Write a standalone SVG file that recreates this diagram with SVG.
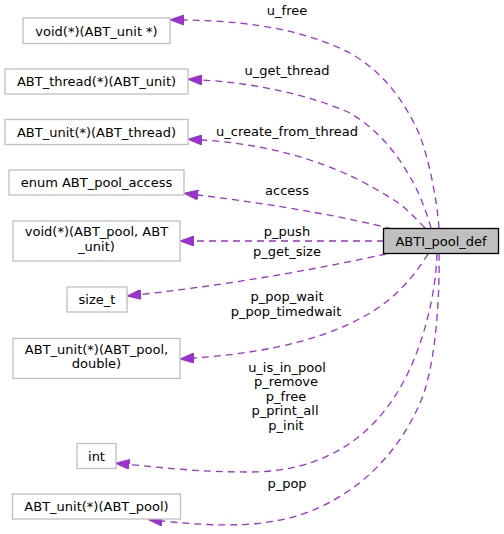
<svg xmlns="http://www.w3.org/2000/svg" width="504" height="534" viewBox="0 0 504 534">
<style>
text{font-family:"DejaVu Sans","Liberation Sans",sans-serif;font-size:13px;fill:#000}
.n rect{fill:#fff;stroke:#bfbfbf;stroke-width:1.3}
.m rect{fill:#bfbfbf;stroke:#000;stroke-width:1.3}
.c path{fill:none;stroke:#9a32cd;stroke-width:1.3;stroke-dasharray:7,5;marker-end:url(#ah)}
.c text{text-anchor:middle}
.t{text-anchor:middle}
</style>
<defs>
<marker id="ah" markerUnits="userSpaceOnUse" markerWidth="14" markerHeight="10" viewBox="0 0 14 10" refX="0" refY="5" orient="auto">
<path d="M0,0 L14,5 L0,10 Z" fill="#9a32cd" stroke="#9a32cd" stroke-width="1"/>
</marker>
</defs>
<rect width="504" height="534" fill="#fff"/>
<g class="c" id="connectors">
<path d="M439,228 C437,200 428,150 415,125 C400,95 380,70 350,53 C310,33 260,21 184,20"/>
<path d="M431,228 C426,210 418,190 410,177 C395,150 375,128 350,113 C310,95 255,83 202,80"/>
<path d="M425,228 C415,218 405,207 397,202 C375,188 350,173 310,160 C280,150 240,142 202,140"/>
<path d="M392,229 C350,218 280,205 198,195"/>
<path d="M384,241 L194,241"/>
<path d="M386,254 C330,266 250,282 141,294.5"/>
<path d="M428,254 C415,275 395,300 363,317 C330,335 280,352 194,358"/>
<path d="M437,254 C436,290 425,345 400,388 C370,440 320,472 250,472 C200,472 165,468 129.5,464.5"/>
<path d="M439,254 C440,300 435,370 420,403 C400,450 360,495 300,515 C260,527 220,527 162,521"/>
<text x="287" y="15">u_free</text>
<text x="287" y="75">u_get_thread</text>
<text x="287" y="135.5">u_create_from_thread</text>
<text x="287" y="195">access</text>
<text x="287" y="236">p_push</text>
<text x="287" y="255.5">p_get_size</text>
<text x="287" y="301">p_pop_wait</text>
<text x="286" y="315.5">p_pop_timedwait</text>
<text x="287" y="371.5">u_is_in_pool</text>
<text x="286" y="386">p_remove</text>
<text x="286" y="400.5">p_free</text>
<text x="285" y="415">p_print_all</text>
<text x="286" y="429.5">p_init</text>
<text x="287" y="488">p_pop</text>
</g>
<g class="m" id="ABTI_pool_def">
<rect x="383.5" y="228.5" width="115" height="25"/>
<text class="t" x="441" y="245.5">ABTI_pool_def</text>
</g>
<g class="n" id="n_void_unit">
<rect x="23" y="18" width="147" height="25.5"/>
<text class="t" x="96.5" y="35.5">void(*)(ABT_unit *)</text>
</g>
<g class="n" id="n_thread_unit">
<rect x="5" y="69" width="183" height="25"/>
<text class="t" x="96.5" y="86">ABT_thread(*)(ABT_unit)</text>
</g>
<g class="n" id="n_unit_thread">
<rect x="5" y="119.5" width="183" height="25"/>
<text class="t" x="96.5" y="136.5">ABT_unit(*)(ABT_thread)</text>
</g>
<g class="n" id="n_access">
<rect x="9" y="170" width="175" height="25"/>
<text class="t" x="96.5" y="187">enum ABT_pool_access</text>
</g>
<g class="n" id="n_void_pool_unit">
<rect x="13" y="221" width="167" height="40"/>
<text class="t" x="96.5" y="236">void(*)(ABT_pool, ABT</text>
<text class="t" x="96.5" y="250.5">_unit)</text>
</g>
<g class="n" id="n_size_t">
<rect x="67" y="287" width="60" height="25"/>
<text class="t" x="97" y="304">size_t</text>
</g>
<g class="n" id="n_unit_pool_double">
<rect x="13" y="338.5" width="167" height="40"/>
<text class="t" x="96.5" y="353.5">ABT_unit(*)(ABT_pool,</text>
<text class="t" x="96.5" y="368">double)</text>
</g>
<g class="n" id="n_int">
<rect x="77" y="443.5" width="39" height="25"/>
<text class="t" x="96.5" y="460.5">int</text>
</g>
<g class="n" id="n_unit_pool">
<rect x="12.5" y="494" width="168" height="25"/>
<text class="t" x="96.5" y="511">ABT_unit(*)(ABT_pool)</text>
</g>
</svg>
